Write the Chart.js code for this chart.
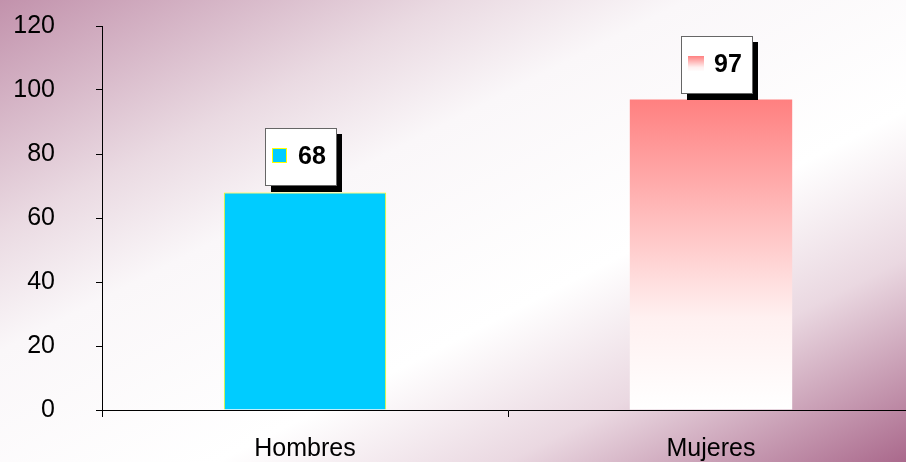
<!DOCTYPE html>
<html>
<head>
<meta charset="utf-8">
<script src="https://cdn.jsdelivr.net/npm/chart.js@4/dist/chart.umd.min.js"></script>
<style>
  html, body { margin: 0; padding: 0; background: #fff; overflow: hidden; }
  #wrap { width: 906px; height: 462px; overflow: hidden; }
</style>
</head>
<body>
<div id="wrap"><canvas id="barSexo" width="914" height="462"></canvas></div>
<script>
var categorias = ['Hombres', 'Mujeres'];
var valores = [68, 97];
var yMin = 0;
var yMax = 120;
var yPaso = 20;

var fuente = "'Liberation Sans', Arial, sans-serif";

// fondo con degradado en diagonal (rosado en dos esquinas)
var fondoPlugin = {
  id: 'fondo',
  beforeDraw: function(chart) {
    var ctx = chart.ctx;
    var w = chart.width, h = chart.height;
    ctx.save();
    var g = ctx.createLinearGradient(0, 0, 374, 733);
    g.addColorStop(0, 'rgb(194,146,172)');
    g.addColorStop(0.25, 'rgb(234,218,226)');
    g.addColorStop(0.38, 'rgb(250,247,249)');
    g.addColorStop(0.62, 'rgb(255,255,255)');
    g.addColorStop(0.78, 'rgb(234,216,225)');
    g.addColorStop(1, 'rgb(170,105,140)');
    ctx.fillStyle = g;
    ctx.fillRect(0, 0, w, h);
    ctx.restore();
  }
};

function degradadoMujeres(ctx, x, yTop, yBot) {
  var g = ctx.createLinearGradient(0, yTop, 0, yBot);
  g.addColorStop(0, '#FF8080');
  g.addColorStop(0.7, '#FFF0F0');
  g.addColorStop(1, '#FFFFFF');
  return g;
}

// etiquetas con caja y sombra
var etiquetaPlugin = {
  id: 'etiquetas',
  afterDatasetsDraw: function(chart) {
    var ctx = chart.ctx;
    var meta = chart.getDatasetMeta(0);
    ctx.save();
    meta.data.forEach(function(bar, i) {
      var bw = 71, bh = 57;
      var bx = Math.round(bar.x - 40 + i * 10);
      var by = Math.round(bar.y - 7 - bh);
      // sombra
      ctx.fillStyle = '#000';
      ctx.fillRect(bx + 6, by + 6, bw, bh + 1);
      // caja
      ctx.fillStyle = '#fff';
      ctx.fillRect(bx, by, bw, bh);
      ctx.strokeStyle = '#666';
      ctx.lineWidth = 1;
      ctx.strokeRect(bx + 0.5, by + 0.5, bw, bh);
      // clave
      var kx = bx + 7, ky = by + 20;
      if (i === 0) {
        ctx.fillStyle = '#00CCFF';
        ctx.fillRect(kx, ky, 15, 15);
        ctx.strokeStyle = '#FFFF00';
        ctx.strokeRect(kx + 0.5, ky + 0.5, 14, 14);
      } else {
        ctx.fillStyle = degradadoMujeres(ctx, kx, ky, ky + 16);
        ctx.fillRect(kx, ky, 16, 15);
      }
      ctx.fillStyle = '#000';
      ctx.font = 'bold 25px ' + fuente;
      ctx.textBaseline = 'middle';
      ctx.textAlign = 'left';
      ctx.fillText(String(valores[i]), bx + 33, by + bh / 2 + 1);
    });
    ctx.restore();
  }
};

var barCanvas = document.getElementById('barSexo').getContext('2d');

var barChart = new Chart(barCanvas, {
  type: 'bar',
  data: {
    labels: categorias,
    datasets: [{
      label: 'Sexo',
      data: valores,
      backgroundColor: function(c) {
        var area = c.chart.chartArea;
        if (!area) return '#00CCFF';
        if (c.dataIndex === 0) return '#00CCFF';
        var y = c.chart.scales.y.getPixelForValue(valores[1]);
        return degradadoMujeres(c.chart.ctx, 0, y, area.bottom);
      },
      borderColor: ['#FFFF00', 'rgba(0,0,0,0)'],
      borderWidth: [1, 0],
      barPercentage: 0.4,
      categoryPercentage: 1
    }]
  },
  options: {
    responsive: false,
    animation: false,
    layout: { padding: { top: 26, right: 0, left: 0, bottom: 0 } },
    plugins: {
      legend: { display: false },
      tooltip: { enabled: false },
      title: { display: false }
    },
    scales: {
      x: {
        afterFit: function(s) { s.height = 52; s.paddingLeft = 0; s.paddingRight = 0; },
        grid: { display: true, drawOnChartArea: false, tickLength: 7, color: '#000', offset: true },
        border: { display: true, color: '#000', width: 1 },
        ticks: { color: '#000', font: { family: fuente, size: 25 }, padding: 17 }
      },
      y: {
        min: yMin,
        max: yMax,
        afterFit: function(s) { s.width = 102; s.paddingTop = 0; s.paddingBottom = 0; },
        grid: { display: true, drawOnChartArea: false, tickLength: 6, color: '#000' },
        border: { display: true, color: '#000', width: 1 },
        ticks: { stepSize: yPaso, color: '#000', font: { family: fuente, size: 25 }, padding: 41 }
      }
    }
  },
  plugins: [fondoPlugin, etiquetaPlugin]
});
</script>
</body>
</html>
